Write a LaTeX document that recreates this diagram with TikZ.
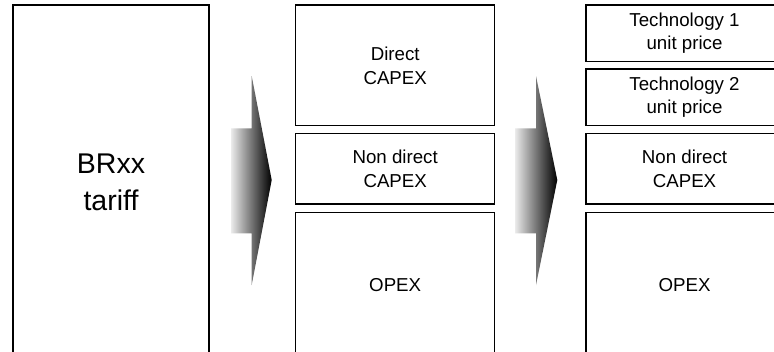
\documentclass[tikz,border=0pt]{standalone}
\usepackage{fontspec}
\setmainfont{Liberation Sans}
\begin{document}
\begin{tikzpicture}[x=1pt,y=-1pt,
  box/.style={draw=black, line width=1.5pt, fill=white, rectangle, anchor=north west,
    align=center, inner sep=0pt, outer sep=0pt, font=\fontsize{18.7}{24}\selectfont},
  bigbox/.style={box, font=\fontsize{28.5}{37.5}\selectfont},
  fatarrow/.style={left color=white!92!black, right color=black, draw=none}]
\useasboundingbox (0,0) rectangle (774,351);
\fill[white] (0,0) rectangle (774,351);
\clip (0,0) rectangle (774,351);
% left column
\node[bigbox, minimum width=196pt, minimum height=355pt] (tariff) at (13,5) {BRxx\\tariff};
% middle column
\node[box, minimum width=199pt, minimum height=120.7pt] (dcapex) at (295.7,5) {Direct\\CAPEX};
\node[box, minimum width=199pt, minimum height=70.7pt] (ndcapexA) at (295.7,133.3) {Non direct\\CAPEX};
\node[box, minimum width=199pt, minimum height=145pt] (opexA) at (295.7,212.3) {OPEX};
% right column
\node[box, minimum width=197pt, minimum height=56.7pt, font=\fontsize{18.7}{23}\selectfont] (tech1) at (586,5) {Technology 1\\unit price};
\node[box, minimum width=197pt, minimum height=56.7pt, font=\fontsize{18.7}{23}\selectfont] (tech2) at (586,69) {Technology 2\\unit price};
\node[box, minimum width=197pt, minimum height=70.7pt] (ndcapexB) at (586,133.3) {Non direct\\CAPEX};
\node[box, minimum width=197pt, minimum height=145pt] (opexB) at (586,212.3) {OPEX};
% arrows
\path[fatarrow] (231,128.3) -- (251.7,128.3) -- (251.7,76) -- (271.7,180) -- (251.7,285)
  -- (251.7,233.3) -- (231,233.3) -- cycle;
\path[fatarrow] (515,128.3) -- (536,128.3) -- (536,76) -- (557.3,180) -- (536,285)
  -- (536,233.3) -- (515,233.3) -- cycle;
\end{tikzpicture}
\end{document}
